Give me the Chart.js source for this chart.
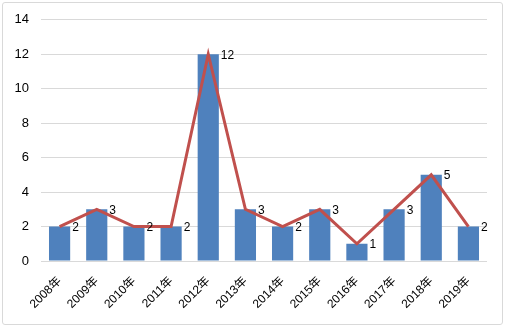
<!DOCTYPE html>
<html lang="zh">
<head>
<meta charset="utf-8" />
<title>Yearly count</title>
<script src="https://cdn.jsdelivr.net/npm/chart.js@4.4.0/dist/chart.umd.min.js"></script>
<style>
    html, body { margin: 0; padding: 0; background: #fff; }
    #wrap { position: relative; width: 506px; height: 329px; }
    #frame {
        position: absolute; left: 2px; top: 2px; width: 499px; height: 321px;
        border: 1px solid #d9d9d9; border-radius: 3px; pointer-events: none;
    }
    canvas { position: absolute; left: 0; top: 0; }
</style>
</head>
<body>
<div id="wrap">
    <canvas id="chart" width="506" height="329"></canvas>
    <div id="frame"></div>
</div>
<script>
    const years = ["2008年", "2009年", "2010年", "2011年", "2012年", "2013年",
        "2014年", "2015年", "2016年", "2017年", "2018年", "2019年"];
    const counts = [2, 3, 2, 2, 12, 3, 2, 3, 1, 3, 5, 2];
    const yTicks = [0, 2, 4, 6, 8, 10, 12, 14];

    const FONT = "'Liberation Sans', 'Noto Sans CJK SC', sans-serif";

    // number next to the top right corner of each bar
    const barLabels = {
        id: "barLabels",
        afterDatasetsDraw(chart) {
            const ctx = chart.ctx;
            const meta = chart.getDatasetMeta(1);
            ctx.save();
            ctx.font = "12px " + FONT;
            ctx.fillStyle = "#000";
            ctx.textAlign = "left";
            ctx.textBaseline = "middle";
            meta.data.forEach((bar, i) => {
                ctx.fillText(String(counts[i]), bar.x + bar.width / 2 + 2, bar.y + 1);
            });
            ctx.restore();
        }
    };

    new Chart(document.getElementById("chart"), {
        data: {
            labels: years,
            datasets: [
                {
                    type: "line",
                    data: counts,
                    borderColor: "#c0504d",
                    borderWidth: 3,
                    pointRadius: 0,
                    tension: 0,
                    order: 0
                },
                {
                    type: "bar",
                    data: counts,
                    backgroundColor: "#4f81bd",
                    borderWidth: 0,
                    barPercentage: 0.57,
                    categoryPercentage: 1,
                    order: 1
                }
            ]
        },
        options: {
            responsive: false,
            animation: false,
            layout: { padding: { top: 12, right: 19, bottom: 0, left: 0 } },
            plugins: { legend: { display: false }, tooltip: { enabled: false } },
            scales: {
                x: {
                    grid: { display: false },
                    border: { display: false },
                    ticks: {
                        color: "#000",
                        font: { family: FONT, size: 12 },
                        maxRotation: 45,
                        minRotation: 45,
                        padding: 5
                    },
                    afterFit(s) { s.height = 68; }
                },
                y: {
                    min: 0,
                    max: 14,
                    afterBuildTicks(s) { s.ticks = yTicks.map(v => ({ value: v })); },
                    grid: { color: "#d9d9d9", lineWidth: 1, drawTicks: false },
                    border: { display: false },
                    ticks: {
                        color: "#000",
                        font: { family: FONT, size: 13 },
                        padding: 12
                    },
                    afterFit(s) { s.width = 41; }
                }
            }
        },
        plugins: [barLabels]
    });
</script>
</body>
</html>
